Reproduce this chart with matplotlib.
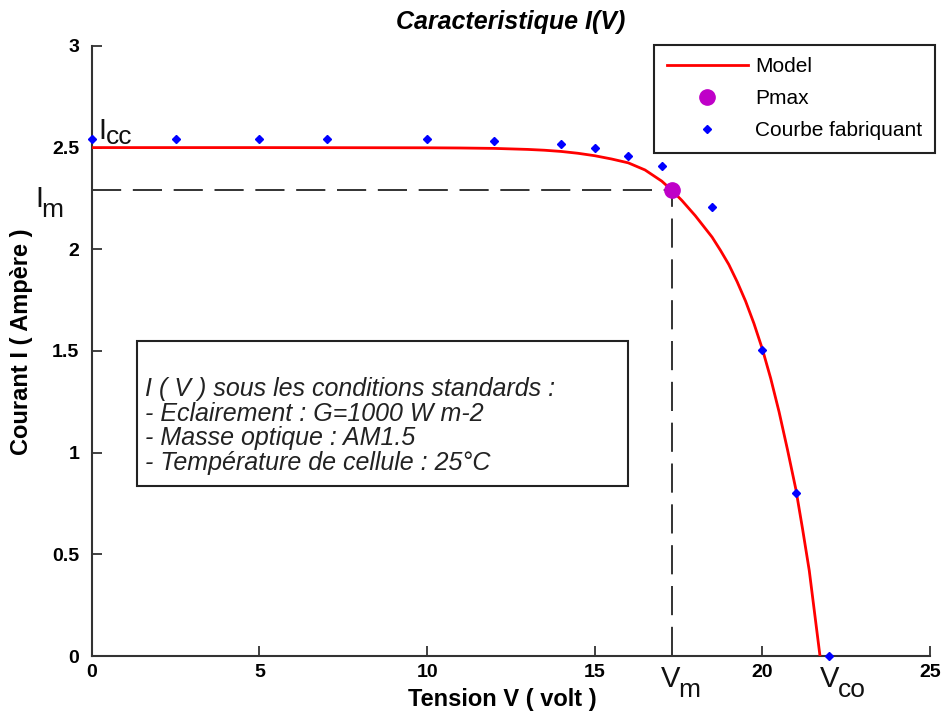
import matplotlib
matplotlib.use("Agg")
import matplotlib.pyplot as plt
from matplotlib.patches import Rectangle

plt.rcParams['font.family'] = ['Liberation Sans', 'DejaVu Sans']

# courbe du modele
v_model = [0, 5, 10, 11, 12, 13, 13.5, 14, 14.5, 15, 15.5, 16, 16.5, 17, 17.3,
           17.6, 18, 18.5, 18.75, 19, 19.25, 19.5, 19.75, 20, 20.25, 20.5, 20.75,
           21, 21.2, 21.4, 21.72]
i_model = [2.500, 2.500, 2.499, 2.498, 2.496, 2.491, 2.487, 2.481, 2.472, 2.460,
           2.444, 2.425, 2.39, 2.335, 2.29, 2.24, 2.165, 2.06, 1.995, 1.925, 1.84,
           1.745, 1.635, 1.51, 1.365, 1.2, 1.015, 0.82, 0.625, 0.42, 0.0]

# points du fabriquant
v_fab = [0, 2.5, 5, 7, 10, 12, 14, 15, 16, 17, 18.5, 20, 21, 22]
i_fab = [2.54, 2.54, 2.54, 2.54, 2.54, 2.53, 2.52, 2.50, 2.46, 2.41, 2.21, 1.505, 0.80, 0.0]

# point de puissance max
v_m = 17.3
i_m = 2.29
v_co = 21.72
i_cc = 2.50

x_ticks = [0, 5, 10, 15, 20, 25]
y_ticks = [0, 0.5, 1, 1.5, 2, 2.5, 3]

conditions = ("I ( V ) sous les conditions standards :\n"
              "- Eclairement : G=1000 W m-2\n"
              "- Masse optique : AM1.5\n"
              "- Température de cellule : 25°C")

fig = plt.figure(figsize=(9.47, 7.17), dpi=100)
ax = fig.add_axes([0.097, 0.085, 0.885, 0.851])

# lignes en tirets vers Vm et Im
ax.plot([0, v_m], [i_m, i_m], color='#333333', lw=1.4, ls=(0, (15, 6)), zorder=1)
ax.plot([v_m, v_m], [0, i_m], color='#333333', lw=1.4, ls=(0, (15, 6)), zorder=1)

ax.plot(v_model, i_model, color='#ff0000', lw=2, label='Model', zorder=3)
ax.plot([v_m], [i_m], 'o', color='#bf00c8', ms=11, label='Pmax', zorder=4)
ax.plot(v_fab, i_fab, 'D', color='#0000ff', ms=4, ls='none',
        label='Courbe fabriquant', zorder=5, clip_on=False)

ax.set_xlim(0, 25)
ax.set_ylim(0, 3)
ax.set_xticks(x_ticks)
ax.set_yticks(y_ticks)
ax.set_xticklabels([str(t) for t in x_ticks])
ax.set_yticklabels([str(t) for t in y_ticks])

for s in ['top', 'right']:
    ax.spines[s].set_visible(False)
for s in ['left', 'bottom']:
    ax.spines[s].set_linewidth(1.5)
    ax.spines[s].set_color('#333333')
ax.tick_params(direction='in', length=7, width=1.3, color='#333333',
               labelsize=14)
ax.tick_params(axis='x', pad=6)
ax.tick_params(axis='y', pad=9)
for lab in ax.get_xticklabels() + ax.get_yticklabels():
    lab.set_fontweight('bold')

ax.set_title('Caracteristique I(V)', fontsize=18, fontweight='bold',
             fontstyle='italic', pad=12)
ax.set_xlabel('Tension V ( volt )', fontsize=17, fontweight='bold')
ax.set_ylabel('Courant I ( Ampère )', fontsize=17, fontweight='bold')
ax.xaxis.set_label_coords(0.49, -0.053)
ax.yaxis.set_label_coords(-0.07, 0.515)

leg = ax.legend(loc='upper right', bbox_to_anchor=(1.006, 1.002), fontsize=15,
                frameon=True, fancybox=False, borderaxespad=0, handlelength=3.9,
                handletextpad=0.35, borderpad=0.6, labelspacing=0.62)
leg.get_frame().set_edgecolor('#222222')
leg.get_frame().set_linewidth(1.5)
leg.get_frame().set_alpha(1)

# cadre des conditions
ax.add_patch(Rectangle((0.0537, 0.2787), 0.586, 0.238, transform=ax.transAxes,
                       fill=False, edgecolor='#222222', lw=1.5, zorder=2))
ax.text(0.063, 0.377, conditions, transform=ax.transAxes, fontsize=18,
        fontstyle='italic', va='center', ha='left', linespacing=1.03,
        color='#222222')


def sub_label(xy, main, sub, xytext, drop=-3, fs=21, fs_sub=19):
    t = ax.annotate(main, xy=xy, xycoords='data', xytext=xytext,
                    textcoords='offset points', fontsize=fs, ha='left',
                    va='baseline', annotation_clip=False, color='#111111')
    ax.annotate(sub, xy=(1, 0), xycoords=t, xytext=(-1, drop),
                textcoords='offset points', fontsize=fs_sub, ha='left',
                va='baseline', annotation_clip=False, color='#111111')
    return t


sub_label((0, i_cc), 'I', 'cc', (5, 6), drop=1)
sub_label((0, i_m), 'I', 'm', (-41, -12))
sub_label((v_m, 0), 'V', 'm', (-8, -22))
sub_label((v_co, 0), 'V', 'co', (0, -22))

fig.savefig('out.png', dpi=100)
